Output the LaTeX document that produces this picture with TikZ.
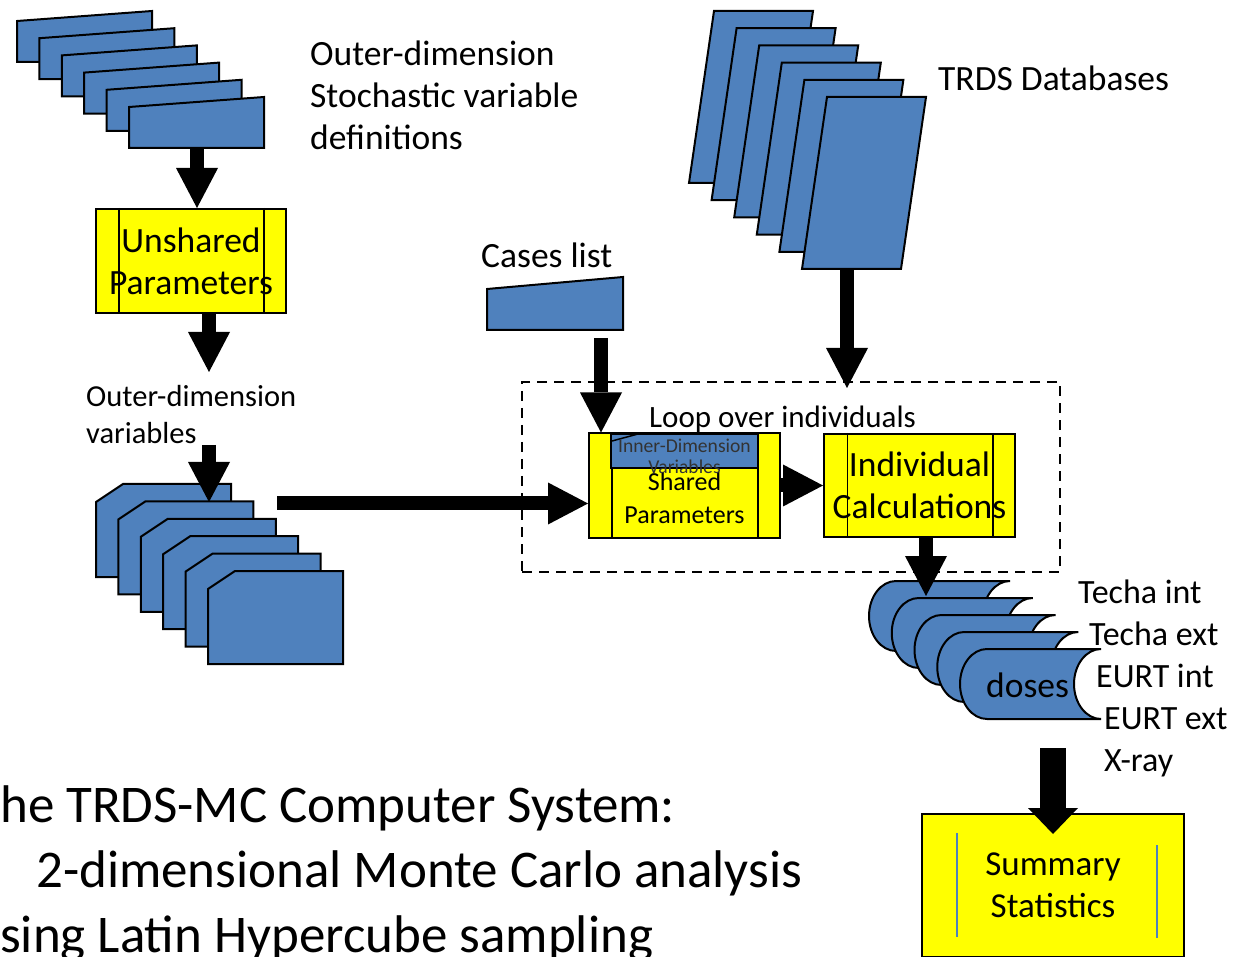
\documentclass[tikz,border=0pt]{standalone}
\usepackage{fontspec}
\setmainfont{Carlito}
\usetikzlibrary{arrows.meta}
\definecolor{sblue}{HTML}{4F81BD}
\definecolor{syel}{HTML}{FFFF00}
\begin{document}
\begin{tikzpicture}[x=1pt,y=-1pt,
  shp/.style={fill=sblue,draw=black,line width=2pt,line join=miter},
  ybox/.style={draw=black,fill=syel,line width=2pt,inner sep=0pt,align=center},
  inline/.style={line width=1.5pt},
  arrA/.style={line width=14pt,-{Triangle[width=42pt,length=40pt,line width=0pt]}},
  arrB/.style={line width=26pt,-{Triangle[width=50pt,length=26pt,line width=0pt]}},
  txt/.style={inner sep=0pt,anchor=base west,font=\fontsize{35.5}{42}\selectfont},
  lbl/.style={inner sep=0pt,anchor=base west,font=\fontsize{34}{42}\selectfont},
  big/.style={inner sep=0pt,anchor=base west,font=\fontsize{53}{65}\selectfont}]
\useasboundingbox (0,0) rectangle (1235,957);
\fill[white] (0,0) rectangle (1235,957);

% top-left stack (manual input)
\foreach \i in {0,...,5}{
  \pgfmathsetmacro\L{17+22.4*\i}
  \pgfmathsetmacro\T{21+17.2*\i}
  \draw[shp] (\L,\T) -- ({\L+135},{\T-10}) -- ({\L+135},{\T+41}) -- (\L,{\T+41}) -- cycle;
}
% TRDS stack
\foreach \i in {0,...,5}{
  \pgfmathsetmacro\L{714+22.6*\i}
  \pgfmathsetmacro\T{11+17.2*\i}
  \draw[shp] (\L,\T) -- ({\L+99},\T) -- ({\L+74},{\T+172}) -- ({\L-25},{\T+172}) -- cycle;
}
% cases list
\draw[shp] (487,289) -- (623,277) -- (623,330) -- (487,330) -- cycle;
% bottom-left stack
\foreach \i in {0,...,5}{
  \pgfmathsetmacro\L{96+22.4*\i}
  \pgfmathsetmacro\T{484+17.4*\i}
  \draw[shp] (\L,{\T+18}) -- ({\L+27},\T) -- ({\L+135},\T) -- ({\L+135},{\T+93}) -- (\L,{\T+93}) -- cycle;
}
% doses stack
\foreach \i in {0,...,4}{
  \pgfmathsetmacro\L{869+22.75*\i}
  \pgfmathsetmacro\T{581+17*\i}
  \draw[shp] ({\L+27},\T) -- ({\L+141},\T)
    .. controls ({\L+126.1},\T) and ({\L+114},{\T+15.7}) .. ({\L+114},{\T+35})
    .. controls ({\L+114},{\T+54.3}) and ({\L+126.1},{\T+70}) .. ({\L+141},{\T+70})
    -- ({\L+27},{\T+70})
    .. controls ({\L+12.1},{\T+70}) and (\L,{\T+54.3}) .. (\L,{\T+35})
    .. controls (\L,{\T+15.7}) and ({\L+12.1},\T) .. ({\L+27},\T) -- cycle;
}
\node[txt] (doses) at (986,697) {doses};

% loop box
\node[draw=black,line width=2.5pt,dash pattern=on 10pt off 7pt,minimum width=538pt,minimum height=190pt,inner sep=0pt] (loop) at (791,477) {};

% yellow boxes
\node[ybox,minimum width=190pt,minimum height=104pt,font=\fontsize{35.5}{42}\selectfont] (unshared) at (191,261) {Unshared\\Parameters};
\draw[inline] ([xshift=24pt]unshared.north west) -- ([xshift=24pt]unshared.south west);
\draw[inline] ([xshift=-23pt]unshared.north east) -- ([xshift=-23pt]unshared.south east);

\node[ybox,minimum width=191pt,minimum height=104pt] (shared) at (684.5,485.5) {};
\draw[inline] ([xshift=24pt]shared.north west) -- ([xshift=24pt]shared.south west);
\draw[inline] ([xshift=-23pt]shared.north east) -- ([xshift=-23pt]shared.south east);
\node[inner sep=0pt,align=center,font=\fontsize{26}{33}\selectfont] (sharedtxt) at (684.5,498) {Shared\\Parameters};
\node[fill=sblue,draw=black,line width=1.5pt,minimum width=147pt,minimum height=34pt,inner sep=0pt] (innerdim) at (684.5,451) {};
\draw[line width=1.5pt] (612,441) -- (638,434);
\node[inner sep=0pt,align=center,text=black!80,font=\fontsize{19.6}{21}\selectfont] (innertxt) at (684.5,456) {Inner-Dimension\\Variables};

\node[ybox,minimum width=191pt,minimum height=103pt,font=\fontsize{35.5}{42}\selectfont] (indiv) at (919.5,485.5) {Individual\\Calculations};
\draw[inline] ([xshift=24.5pt]indiv.north west) -- ([xshift=24.5pt]indiv.south west);
\draw[inline] ([xshift=-23pt]indiv.north east) -- ([xshift=-23pt]indiv.south east);

\node[ybox,minimum width=262pt,minimum height=143pt,font=\fontsize{35}{42}\selectfont] (summary) at (1053,885.5) {Summary\\Statistics};
\draw[sblue,line width=1.5pt] (957,833) -- (957,937);
\draw[sblue,line width=1.5pt] (1157,845) -- (1157,938);

% texts
\node[txt] (t1) at (310,65.5) {Outer-dimension};
\node[txt] (t2) at (310,108) {Stochastic variable};
\node[txt] (t3) at (310,150) {definitions};
\node[txt] (trds) at (938,91) {TRDS Databases};
\node[txt] (cases) at (481,268) {Cases list};
\node[txt,font=\fontsize{30.5}{37}\selectfont] (odv1) at (86,407) {Outer-dimension};
\node[txt,font=\fontsize{30.5}{37}\selectfont] (odv2) at (86,444) {variables};
\node[txt,font=\fontsize{31}{38}\selectfont] (looptxt) at (649,427.5) {Loop over individuals};
\node[lbl] (l1) at (1078,603) {Techa int};
\node[lbl] (l2) at (1089,645) {Techa ext};
\node[lbl] (l3) at (1096,687) {EURT int};
\node[lbl] (l4) at (1104,729) {EURT ext};
\node[lbl] (l5) at (1104,771) {X-ray};
\node[big] (b1) at (0,822) {he TRDS-MC Computer System:};
\node[big] (b2) at (36,887) {2-dimensional Monte Carlo analysis};
\node[big] (b3) at (0,952) {sing Latin Hypercube sampling};

% arrows
\coordinate (tlout) at (197,149);
\draw[arrA] (tlout) -- (tlout |- unshared.north);
\coordinate (odvin) at (209,372);
\draw[arrA] (unshared.south -| odvin) -- (odvin);
\coordinate (odvout) at (209,445);
\coordinate (blin) at (209,502);
\draw[arrA] (odvout) -- (blin);
\coordinate (blout) at (277,503.5);
\draw[arrA] (blout) -- (blout -| shared.west);
\coordinate (casesout) at (601,338);
\draw[arrA] (casesout) -- (casesout |- shared.north);
\draw[arrA] (shared.east) -- (indiv.west);
\coordinate (dosesin) at (926,596);
\draw[arrA] (indiv.south -| dosesin) -- (dosesin);
\coordinate (trdsout) at (847,269);
\coordinate (loopin) at (847,388);
\draw[arrA] (trdsout) -- (loopin);
\coordinate (dosesout) at (1053,748);
\coordinate (sumin) at (1053,834);
\draw[arrB] (dosesout) -- (sumin);
\end{tikzpicture}
\end{document}
